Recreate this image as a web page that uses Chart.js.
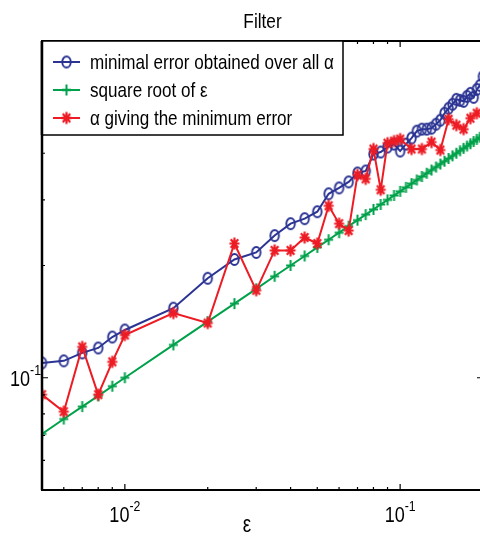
<!DOCTYPE html>
<html>
<head>
<meta charset="utf-8">
<script src="https://cdn.jsdelivr.net/npm/chart.js@4/dist/chart.umd.min.js"></script>
<style>
  body { margin: 0; background: #fff; }
  #wrap { width: 480px; height: 539px; overflow: hidden; }
</style>
</head>
<body>
<div id="wrap"><canvas id="c" width="490" height="539"></canvas></div>
<script>
// epsilon values shared by the blue and green series
const epsValues = [0.005, 0.006, 0.007, 0.008, 0.009, 0.01, 0.015, 0.02, 0.025, 0.03,
    0.035, 0.04, 0.045, 0.05, 0.055, 0.06, 0.065, 0.07, 0.075, 0.08,
    0.085, 0.09, 0.095, 0.1, 0.105, 0.11, 0.115, 0.12, 0.125, 0.13,
    0.135, 0.14, 0.145, 0.15, 0.155, 0.16, 0.165, 0.17, 0.175, 0.18,
    0.185, 0.19, 0.195, 0.2];

// minimal error obtained over all alpha (blue circles)
const minErrorValues = [0.1096, 0.111, 0.1166, 0.1202, 0.1286, 0.1343, 0.1537, 0.1848, 0.2076, 0.2168,
    0.2406, 0.259, 0.2671, 0.2788, 0.3114, 0.323, 0.3351, 0.3542, 0.3586, 0.3981,
    0.403, 0.4156, 0.4233, 0.4055, 0.4233, 0.4392, 0.4585, 0.4642, 0.4642, 0.467,
    0.4786, 0.4905, 0.5121, 0.5281, 0.5412, 0.558, 0.5546, 0.5511, 0.5684, 0.579,
    0.5649, 0.5933, 0.6081, 0.6427];

// square root of epsilon (green crosses)
const sqrtEpsValues = [0.0707, 0.0775, 0.0837, 0.0894, 0.0949, 0.1, 0.1225, 0.1414, 0.1581, 0.1732,
    0.1871, 0.2, 0.2121, 0.2236, 0.2345, 0.2449, 0.255, 0.2646, 0.2739, 0.2828,
    0.2915, 0.3, 0.3082, 0.3162, 0.324, 0.3317, 0.3391, 0.3464, 0.3536, 0.3606,
    0.3674, 0.3742, 0.3808, 0.3873, 0.3937, 0.4, 0.4062, 0.4123, 0.4183, 0.4243,
    0.4301, 0.4359, 0.4416, 0.4472];

// alpha giving the minimum error (red stars)
const alphaEps = [0.005, 0.006, 0.007, 0.008, 0.009, 0.01, 0.015, 0.02, 0.025, 0.03,
    0.035, 0.04, 0.045, 0.05, 0.055, 0.06, 0.065, 0.07, 0.075, 0.08,
    0.085, 0.09, 0.095, 0.1, 0.11, 0.12, 0.13, 0.14, 0.15, 0.16,
    0.17, 0.18, 0.19];
const alphaValues = [0.0901, 0.0811, 0.121, 0.0901, 0.1103, 0.1302, 0.1491, 0.1402, 0.2291, 0.1716,
    0.2195, 0.2195, 0.2377, 0.2291, 0.2892, 0.259, 0.2481, 0.3499, 0.3415, 0.4106,
    0.3192, 0.4258, 0.4311, 0.4365, 0.4106, 0.4106, 0.4285, 0.4081, 0.4935, 0.4757,
    0.4642, 0.4966, 0.5121];

// axis ticks
const xTickValues = [0.006, 0.007, 0.008, 0.009, 0.01, 0.02, 0.03, 0.04, 0.05, 0.06, 0.07, 0.08, 0.09, 0.1];
const yTickValues = [0.06, 0.07, 0.08, 0.09, 0.1, 0.2, 0.3, 0.4, 0.5, 0.6, 0.7];
const xMajorTicks = [0.01, 0.1];
const yMajorTicks = [0.1];

const legendLabels = ['minimal error obtained over all \u03b1', 'square root of \u03b5', '\u03b1 giving the minimum error'];

const FONT = "'Liberation Sans', Arial, sans-serif";
const SQUEEZE = 0.82; // the original figure is squashed horizontally
const BLUE = '#2b3493';
const GREEN = '#00a14b';
const RED = '#ed1c24';

// Helper to build a marker canvas (used as pointStyle)
function makeMarker(style, w, h, color, lw) {
    const c = document.createElement('canvas');
    c.width = Math.ceil(w + lw * 2 + 2);
    c.height = Math.ceil(h + lw * 2 + 2);
    const g = c.getContext('2d');
    const cx = c.width / 2, cy = c.height / 2, rx = w / 2, ry = h / 2;
    g.strokeStyle = color;
    g.lineWidth = lw;
    g.beginPath();
    if (style === 'circle') {
        g.ellipse(cx, cy, rx, ry, 0, 0, Math.PI * 2);
    } else {
        g.moveTo(cx - rx, cy); g.lineTo(cx + rx, cy);
        g.moveTo(cx, cy - ry); g.lineTo(cx, cy + ry);
        if (style === 'star') {
            g.moveTo(cx - rx * 0.75, cy - ry * 0.7); g.lineTo(cx + rx * 0.75, cy + ry * 0.7);
            g.moveTo(cx - rx * 0.75, cy + ry * 0.7); g.lineTo(cx + rx * 0.75, cy - ry * 0.7);
        }
    }
    g.stroke();
    return c;
}

const markers = [
    makeMarker('circle', 8.5, 11, BLUE, 1.9),
    makeMarker('cross', 9, 11, GREEN, 2),
    makeMarker('star', 10, 12, RED, 2.2),
];

// Helper to write horizontally squeezed text
function fillNarrow(ctx, text, x, y, align, size) {
    ctx.font = size + 'px ' + FONT;
    const w = ctx.measureText(text).width * SQUEEZE;
    const start = align === 'center' ? x - w / 2 : align === 'right' ? x - w : x;
    ctx.save();
    ctx.translate(start, y);
    ctx.scale(SQUEEZE, 1);
    ctx.textAlign = 'left';
    ctx.fillText(text, 0, 0);
    ctx.restore();
    return w;
}

function textWidth(ctx, text, size) {
    ctx.font = size + 'px ' + FONT;
    return ctx.measureText(text).width * SQUEEZE;
}

// Helper to draw "10" with a superscript exponent
function drawPower(ctx, exp, x, baseline, align) {
    const w1 = textWidth(ctx, '10', 22);
    const w2 = textWidth(ctx, exp, 15);
    const start = align === 'center' ? x - (w1 + w2) / 2 : x - (w1 + w2);
    ctx.textBaseline = 'alphabetic';
    fillNarrow(ctx, '10', start, baseline, 'left', 22);
    fillNarrow(ctx, exp, start + w1, baseline - 11, 'left', 15);
}

const matlabAxes = {
    id: 'matlabAxes',
    afterDatasetsDraw(chart) {
        const { ctx, chartArea: a, scales: { x, y } } = chart;
        ctx.save();
        ctx.strokeStyle = '#000';
        ctx.fillStyle = '#000';
        ctx.lineWidth = 1.2;

        // inward ticks on all four sides
        xTickValues.forEach(v => {
            const px = x.getPixelForValue(v);
            const len = xMajorTicks.includes(v) ? 6 : 3;
            ctx.beginPath();
            ctx.moveTo(px, a.bottom); ctx.lineTo(px, a.bottom - len);
            ctx.moveTo(px, a.top); ctx.lineTo(px, a.top + len);
            ctx.stroke();
        });
        yTickValues.forEach(v => {
            const py = y.getPixelForValue(v);
            const len = yMajorTicks.includes(v) ? 6 : 3;
            ctx.beginPath();
            ctx.moveTo(a.left, py); ctx.lineTo(a.left + len, py);
            ctx.moveTo(a.right, py); ctx.lineTo(a.right - len, py);
            ctx.stroke();
        });

        // frame
        ctx.lineWidth = 2;
        ctx.strokeRect(a.left, a.top, a.right - a.left, a.bottom - a.top);
        ctx.lineWidth = 2.5;
        ctx.beginPath();
        ctx.moveTo(a.left, a.top); ctx.lineTo(a.left, a.bottom);
        ctx.stroke();

        // tick labels
        xMajorTicks.forEach(v => {
            drawPower(ctx, '-' + Math.round(-Math.log10(v)), x.getPixelForValue(v), 522, 'center');
        });
        yMajorTicks.forEach(v => {
            drawPower(ctx, '-' + Math.round(-Math.log10(v)), a.left - 1, y.getPixelForValue(v) + 8, 'right');
        });

        // title and axis label
        ctx.textBaseline = 'alphabetic';
        fillNarrow(ctx, 'Filter', (a.left + a.right) / 2, 28, 'center', 21);
        fillNarrow(ctx, '\u03b5', 247, 532, 'center', 23);

        // legend box
        const box = { left: a.left, top: a.top, right: 343, bottom: 135 };
        ctx.fillStyle = '#fff';
        ctx.fillRect(box.left, box.top, box.right - box.left, box.bottom - box.top);
        ctx.lineWidth = 1.5;
        ctx.strokeStyle = '#000';
        ctx.strokeRect(box.left, box.top, box.right - box.left, box.bottom - box.top);
        ctx.lineWidth = 2.5;
        ctx.beginPath();
        ctx.moveTo(a.left, a.top); ctx.lineTo(a.left, box.bottom);
        ctx.stroke();

        const rowY = [62, 90, 118];
        chart.data.datasets.forEach((ds, i) => {
            ctx.strokeStyle = ds.borderColor;
            ctx.lineWidth = ds.borderWidth;
            ctx.beginPath();
            ctx.moveTo(53, rowY[i]); ctx.lineTo(80, rowY[i]);
            ctx.stroke();
            const m = markers[i];
            ctx.drawImage(m, 66.5 - m.width / 2, rowY[i] - m.height / 2);
            ctx.fillStyle = '#000';
            ctx.textBaseline = 'middle';
            fillNarrow(ctx, legendLabels[i], 90, rowY[i] + 1, 'left', 20.8);
        });
        ctx.restore();
    }
};

new Chart(document.getElementById('c'), {
    type: 'line',
    data: {
        datasets: [
            {
                label: legendLabels[0],
                data: epsValues.map((e, i) => ({ x: e, y: minErrorValues[i] })),
                borderColor: BLUE,
                borderWidth: 2,
                pointStyle: markers[0],
                order: 3,
            },
            {
                label: legendLabels[1],
                data: epsValues.map((e, i) => ({ x: e, y: sqrtEpsValues[i] })),
                borderColor: GREEN,
                borderWidth: 2,
                pointStyle: markers[1],
                order: 2,
            },
            {
                label: legendLabels[2],
                data: alphaEps.map((e, i) => ({ x: e, y: alphaValues[i] })),
                borderColor: RED,
                borderWidth: 2,
                pointStyle: markers[2],
                order: 1,
            },
        ],
    },
    options: {
        responsive: false,
        animation: false,
        layout: { padding: { left: 42, top: 41, right: 7, bottom: 49 } },
        elements: { line: { tension: 0 } },
        plugins: {
            legend: { display: false },
            title: { display: false },
            tooltip: { enabled: false },
        },
        scales: {
            x: { type: 'logarithmic', min: 0.005, max: 0.2, display: false },
            y: { type: 'logarithmic', min: 0.05, max: 0.8, display: false },
        },
    },
    plugins: [matlabAxes],
});
</script>
</body>
</html>
